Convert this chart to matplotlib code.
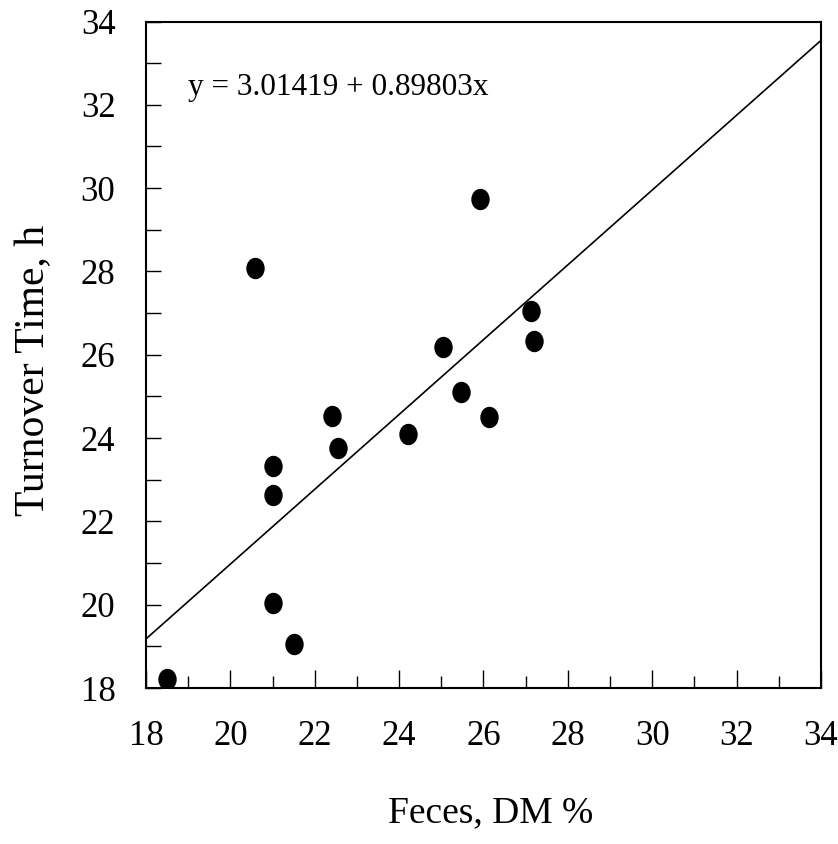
import numpy as np
import matplotlib
matplotlib.use("Agg")
import matplotlib.pyplot as plt
from matplotlib.path import Path
from matplotlib.ticker import MultipleLocator

# Observations: feces dry matter (%) vs. turnover time (h)
feces_dm = [18.51, 20.58, 21.02, 21.02, 21.02, 21.51, 22.42, 22.55,
            24.20, 25.03, 25.47, 25.91, 26.12, 27.12, 27.20]
turnover_h = [18.21, 28.09, 23.33, 22.63, 20.03, 19.06, 24.54, 23.77,
              24.10, 26.18, 25.10, 29.73, 24.50, 27.06, 26.34]

# Fitted regression line
intercept = 3.01419
slope = 0.89803

x_ticks = [18, 20, 22, 24, 26, 28, 30, 32, 34]
y_ticks = [18, 20, 22, 24, 26, 28, 30, 32, 34]

serif = ["Liberation Serif", "DejaVu Serif"]
plt.rcParams["font.family"] = serif

fig = plt.figure(figsize=(8.38, 8.44), dpi=100)
ax = fig.add_axes([0.1742, 0.1848, 0.8055, 0.7897])

# slightly tall elliptical dot marker
circ = Path.unit_circle()
ellipse = Path(circ.vertices * np.array([0.85, 1.0]), circ.codes)

ax.plot(feces_dm, turnover_h, linestyle="none", marker=ellipse,
        markersize=14.4, color="black", zorder=3)

ax.set_xlim(x_ticks[0], x_ticks[-1])
ax.set_ylim(y_ticks[0], y_ticks[-1])

xs = np.array(ax.get_xlim())
ax.plot(xs, intercept + slope * xs, color="black", linewidth=1.2, zorder=2)

ax.text(19.0, 32.42, "y = %.5f + %.5fx" % (intercept, slope),
        fontsize=22.5, ha="left", va="center")

ax.set_xticks(x_ticks)
ax.set_yticks(y_ticks)
ax.xaxis.set_minor_locator(MultipleLocator(1))
ax.yaxis.set_minor_locator(MultipleLocator(1))

ax.tick_params(axis="x", which="major", direction="in", length=13,
               width=1.0, pad=23, labelsize=25, top=False)
ax.tick_params(axis="x", which="minor", direction="in", length=8.6,
               width=1.0, top=False)
ax.tick_params(axis="y", which="both", direction="in", length=10.8,
               width=1.0, right=False)
ax.tick_params(axis="y", which="major", pad=22, labelsize=25)

for sp in ax.spines.values():
    sp.set_linewidth(1.5)

ax.set_xlabel("Feces, DM %", fontsize=27, va="center")
ax.xaxis.set_label_coords(0.51, -0.1875)
ax.set_ylabel("Turnover Time, h", fontsize=30, va="center")
ax.yaxis.set_label_coords(-0.166, 0.477)

fig.savefig("out.png", dpi=100, facecolor="white")
